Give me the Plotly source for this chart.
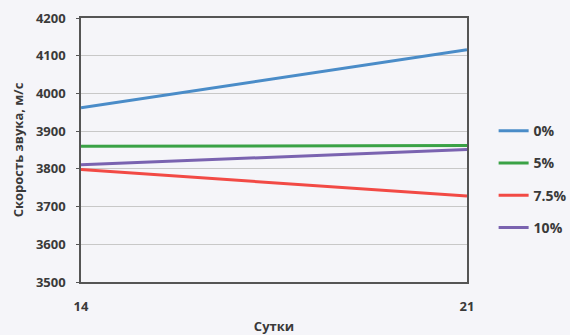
import plotly.graph_objects as go

days = [14, 21]
series_names = ["0%", "5%", "7.5%", "10%"]
v0 = [3962, 4116]
v5 = [3860, 3862]
v75 = [3798, 3728]
v10 = [3811, 3851]
colors = ["#4a8cc8", "#3aa246", "#f24a45", "#7a63b0"]
y_ticks = [3500, 3600, 3700, 3800, 3900, 4000, 4100, 4200]

fig = go.Figure()
for name, vals, c in zip(series_names, [v0, v5, v75, v10], colors):
    fig.add_trace(go.Scatter(x=days, y=vals, mode="lines", name=name,
                             legendgroup=name,
                             line=dict(color=c, width=3)))

font_family = "Open Sans, DejaVu Sans, sans-serif"
fig.update_layout(
    width=570, height=335,
    margin=dict(l=81, r=103, t=18, b=53, autoexpand=False),
    paper_bgcolor="#f5f5f9",
    plot_bgcolor="#f5f5f9",
    font=dict(family=font_family, size=12, color="#3a3a3a"),
    showlegend=True,
    legend=dict(xref="container", yref="container", x=0.866, y=0.465,
                xanchor="left", yanchor="middle",
                bgcolor="rgba(0,0,0,0)", tracegroupgap=11,
                font=dict(size=14, color="#3a3a3a", weight="bold")),
    xaxis=dict(range=[14, 21], tickvals=days, ticktext=["14", "21"],
               showgrid=False, zeroline=False, showline=True, mirror=True,
               linecolor="#555555", linewidth=1.5, ticks="",
               ticklabelstandoff=12, automargin=False,
               tickfont=dict(size=13, color="#3a3a3a", weight="bold"),
               title=dict(text="<b>Сутки</b>", font=dict(size=13, color="#3a3a3a"),
                          standoff=15)),
    yaxis=dict(range=[3500, 4200], tickvals=y_ticks,
               showgrid=True, gridcolor="#c8c8c8", gridwidth=1,
               zeroline=False, showline=True, mirror=True,
               linecolor="#555555", linewidth=1.5, ticks="outside",
               ticklen=3, tickcolor="#555555", ticklabelstandoff=8,
               automargin=False,
               tickfont=dict(size=13, color="#3a3a3a", weight="bold"),
               title=dict(text="<b>Скорость звука, м/с</b>",
                          font=dict(size=13, color="#3a3a3a"), standoff=9)),
)
fig.write_html("out.html")
